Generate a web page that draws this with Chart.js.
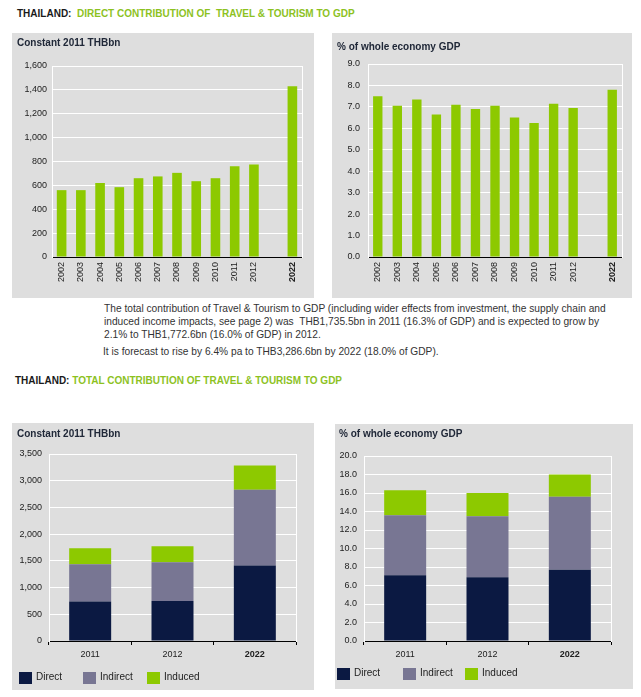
<!DOCTYPE html>
<html>
<head>
<meta charset="utf-8">
<script src="https://cdn.jsdelivr.net/npm/chart.js@4.4.1/dist/chart.umd.min.js"></script>
<style>
  body { margin: 0; background: #fff; font-family: 'Liberation Sans', Arial, sans-serif; }
  .abs { position: absolute; }
  .head { font-weight: bold; font-size: 10px; color: #1a1a1a; white-space: pre; }
  .head span { color: #8dc21f; }
  .panel { position: absolute; background: #dedede; }
  .ptitle { position: absolute; font-weight: bold; font-size: 10px; color: #202838; white-space: nowrap; }
  .para { position: absolute; font-size: 10.2px; line-height: 13px; color: #333; white-space: nowrap; }
  .legend { position: absolute; font-size: 10px; color: #222; }
  .legend .item { position: absolute; top: 0; white-space: nowrap; }
  .legend .box { position: absolute; top: 0; left: 0; width: 13px; height: 12px; }
  .legend .lbl { position: absolute; left: 17px; top: -1px; line-height: 12px; }
</style>
</head>
<body>
<div class="abs head" style="left:17px; top:8px;">THAILAND:  <span>DIRECT CONTRIBUTION OF  TRAVEL &amp; TOURISM TO GDP</span></div>

<div class="panel" style="left:12px; top:33px; width:302px; height:265px;">
  <canvas id="c1" width="302" height="265"></canvas>
</div>
<div class="ptitle" style="left:17px; top:37px;">Constant 2011 THBbn</div>

<div class="panel" style="left:332px; top:33px; width:300px; height:265px;">
  <canvas id="c2" width="300" height="265"></canvas>
</div>
<div class="ptitle" style="left:337px; top:41px;">% of whole economy GDP</div>

<div class="para" style="left:104px; top:302px;">The total contribution of Travel &amp; Tourism to GDP (including wider effects from investment, the supply chain and<br>induced income impacts, see page 2) was&nbsp; THB1,735.5bn in 2011 (16.3% of GDP) and is expected to grow by<br>2.1% to THB1,772.6bn (16.0% of GDP) in 2012.</div>
<div class="para" style="left:103px; top:345px;">It is forecast to rise by 6.4% pa to THB3,286.6bn by 2022 (18.0% of GDP).</div>

<div class="abs head" style="left:15px; top:375px;">THAILAND: <span>TOTAL CONTRIBUTION OF TRAVEL &amp; TOURISM TO GDP</span></div>

<div class="panel" style="left:12px; top:423px; width:302px; height:267px;">
  <canvas id="c3" width="302" height="267"></canvas>
</div>
<div class="ptitle" style="left:17px; top:428px;">Constant 2011 THBbn</div>
<div class="legend" id="lg3" style="left:19px; top:672px;"></div>

<div class="panel" style="left:335px; top:424px; width:298px; height:265px;">
  <canvas id="c4" width="298" height="265"></canvas>
</div>
<div class="ptitle" style="left:339px; top:428px;">% of whole economy GDP</div>
<div class="legend" id="lg4" style="left:337px; top:668px;"></div>

<script>
// direct contribution, yearly
const years = ['2002', '2003', '2004', '2005', '2006', '2007', '2008', '2009', '2010', '2011', '2012', '', '2022'];
const directBn = [560, 560, 620, 585, 660, 675, 705, 635, 660, 760, 775, null, 1430];
const directPct = [7.5, 7.05, 7.35, 6.65, 7.1, 6.9, 7.05, 6.5, 6.25, 7.15, 6.95, null, 7.8];

// total contribution, stacked
const totYears = ['2011', '2012', '2022'];
const seriesNames = ['Direct', 'Indirect', 'Induced'];
const totDirectBn = [737, 750, 1412];
const totIndirectBn = [700, 725, 1419];
const totInducedBn = [299, 298, 456];
const totDirectPct = [7.1, 6.9, 7.7];
const totIndirectPct = [6.5, 6.6, 7.9];
const totInducedPct = [2.7, 2.5, 2.4];

const GREEN = '#8dc900';
const NAVY = '#0b1942';
const GREYPURPLE = '#787693';
const seriesColors = [NAVY, GREYPURPLE, GREEN];

Chart.defaults.font.family = "'Liberation Sans', Arial, sans-serif";
Chart.defaults.color = '#222';

const commas = v => v.toLocaleString('en-US');
const oneDec = v => v.toFixed(1);

function tickFont(ctx) {
  const bold = ctx.tick && ctx.tick.label === '2022';
  return { size: 9, weight: bold ? 'bold' : 'normal' };
}

function makeChart(id, cfg) {
  const stacked = cfg.datasets.length > 1;
  return new Chart(document.getElementById(id), {
    type: 'bar',
    data: { labels: cfg.labels, datasets: cfg.datasets },
    options: {
      responsive: false,
      animation: false,
      layout: { padding: { top: cfg.pad.top, right: cfg.pad.right, left: 0, bottom: 0 } },
      plugins: { legend: { display: false }, tooltip: { enabled: false } },
      datasets: { bar: { categoryPercentage: 1, barPercentage: cfg.barPct, borderWidth: 0 } },
      scales: {
        x: {
          stacked: stacked,
          border: { color: '#000', width: 1 },
          grid: {
            display: stacked,
            drawOnChartArea: false,
            drawTicks: stacked,
            tickLength: 4,
            color: '#000'
          },
          ticks: {
            font: tickFont,
            color: '#222',
            padding: cfg.xPad,
            minRotation: cfg.rot,
            maxRotation: cfg.rot,
            autoSkip: false
          },
          afterFit: s => { s.height = cfg.xH; }
        },
        y: {
          stacked: stacked,
          min: 0,
          max: cfg.max,
          border: { color: '#fff', width: 1 },
          grid: {
            color: c => (c.tick && c.tick.value === 0 ? 'rgba(0,0,0,0)' : '#fff'),
            drawTicks: false
          },
          ticks: {
            stepSize: cfg.step,
            callback: cfg.fmt,
            font: { size: 9 },
            color: '#222',
            padding: cfg.yPad
          },
          afterFit: s => { s.width = cfg.yW; }
        },
        yr: {
          position: 'right',
          display: true,
          border: { color: '#fff', width: 1 },
          grid: { display: false },
          ticks: { display: false },
          afterFit: s => { s.width = 0; }
        }
      }
    }
  });
}

makeChart('c1', {
  labels: years,
  datasets: [{ data: directBn, backgroundColor: GREEN }],
  barPct: 0.5, max: 1600, step: 200, fmt: commas,
  pad: { top: 33, right: 12 }, yW: 40, yPad: 5, xH: 41, xPad: 5, rot: 90
});

makeChart('c2', {
  labels: years,
  datasets: [{ data: directPct, backgroundColor: GREEN }],
  barPct: 0.48, max: 9, step: 1, fmt: oneDec,
  pad: { top: 31, right: 10 }, yW: 36, yPad: 8, xH: 41, xPad: 5, rot: 90
});

makeChart('c3', {
  labels: totYears,
  datasets: [
    { label: seriesNames[0], data: totDirectBn, backgroundColor: seriesColors[0] },
    { label: seriesNames[1], data: totIndirectBn, backgroundColor: seriesColors[1] },
    { label: seriesNames[2], data: totInducedBn, backgroundColor: seriesColors[2] }
  ],
  barPct: 0.51, max: 3500, step: 500, fmt: commas,
  pad: { top: 31, right: 18 }, yW: 37, yPad: 7, xH: 49, xPad: 4, rot: 0
});

makeChart('c4', {
  labels: totYears,
  datasets: [
    { label: seriesNames[0], data: totDirectPct, backgroundColor: seriesColors[0] },
    { label: seriesNames[1], data: totIndirectPct, backgroundColor: seriesColors[1] },
    { label: seriesNames[2], data: totInducedPct, backgroundColor: seriesColors[2] }
  ],
  barPct: 0.51, max: 20, step: 2, fmt: oneDec,
  pad: { top: 32, right: 22 }, yW: 29, yPad: 7, xH: 48, xPad: 4, rot: 0
});

// legends under the stacked charts
function buildLegend(id, offsets) {
  const el = document.getElementById(id);
  seriesNames.forEach((name, i) => {
    const item = document.createElement('div');
    item.className = 'item';
    item.style.left = offsets[i] + 'px';
    item.innerHTML = '<div class="box" style="background:' + seriesColors[i] + '"></div><div class="lbl">' + name + '</div>';
    el.appendChild(item);
  });
}
buildLegend('lg3', [0, 64, 128]);
buildLegend('lg4', [0, 66, 128]);
</script>
</body>
</html>
